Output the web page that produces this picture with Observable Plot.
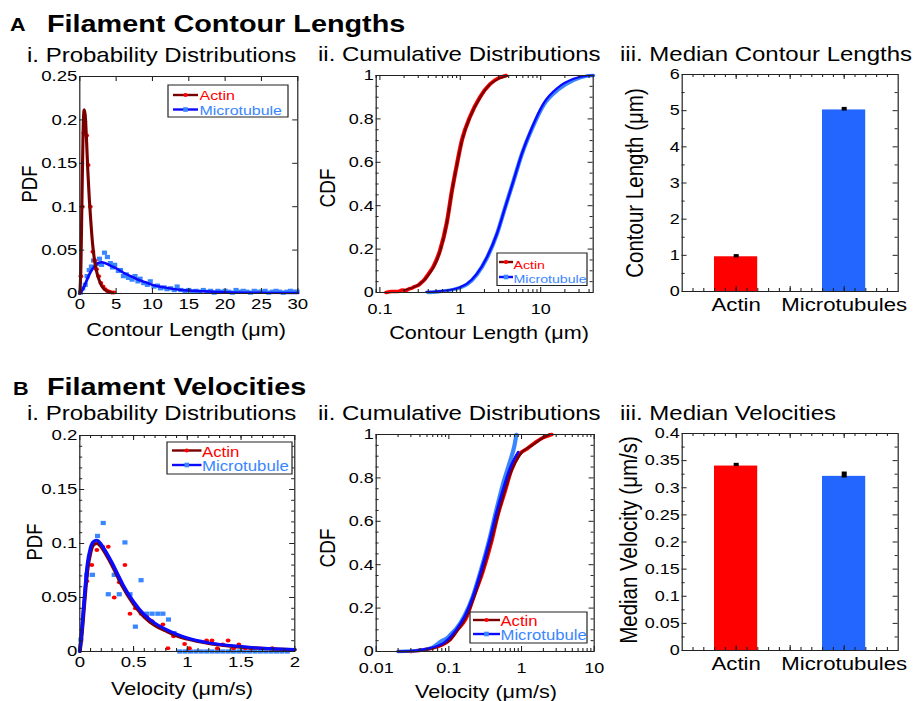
<!DOCTYPE html>
<html><head><meta charset="utf-8">
<script src="https://cdn.jsdelivr.net/npm/d3@7"></script>
<script src="https://cdn.jsdelivr.net/npm/@observablehq/plot@0.6"></script>
<style>
html,body{margin:0;padding:0;background:#fff;width:915px;height:701px;overflow:hidden;}
#stage{position:absolute;left:0;top:0;width:762.5px;height:701px;transform:scaleX(1.2);transform-origin:0 0;font-family:"Liberation Sans",Arial,sans-serif;}
#stage svg{position:absolute;}
</style></head><body><div id="stage"></div>
<script>
// ---------- DATA ----------
// A-i : contour length PDF
const lenPdfActinPts = [[0.15,0.02],[0.35,0.1],[0.55,0.185],[0.7,0.198],[0.95,0.182],[1.15,0.148],[1.45,0.1],[1.8,0.048],[2.05,0.038],[2.3,0.028],[2.6,0.02],[2.9,0.012],[3.2,0.008],[3.5,0.005],[3.8,0.003],[4.1,0.002],[4.4,0.001],[4.7,0.001]];
const lenPdfActinFit = [[0,0],[0.15,0.03],[0.3,0.11],[0.45,0.185],[0.6,0.212],[0.75,0.205],[0.9,0.182],[1.1,0.142],[1.3,0.11],[1.5,0.085],[1.75,0.058],[2.0,0.04],[2.3,0.026],[2.6,0.017],[3.0,0.009],[3.5,0.004],[4.0,0.002],[4.5,0.001]];
const lenPdfMtPts = [[0.1,0.001],[0.4,0.006],[0.75,0.01],[1.0,0.02],[1.3,0.027],[1.6,0.031],[1.9,0.038],[2.3,0.034],[2.7,0.040],[3.0,0.033],[3.4,0.047],[3.8,0.042],[4.2,0.035],[4.5,0.030],[4.8,0.033],[5.3,0.026],[5.6,0.027],[6.0,0.020],[6.4,0.022],[6.7,0.018],[7.2,0.016],[7.6,0.020],[8.0,0.014],[8.3,0.017],[8.8,0.012],[9.3,0.010],[9.7,0.014],[10.2,0.008],[10.7,0.009],[11.1,0.006],[11.6,0.007],[12.0,0.005],[12.5,0.006],[13.0,0.004],[13.4,0.008],[13.9,0.004],[14.5,0.003],[15,0.004],[15.5,0.002],[16,0.003],[16.5,0.002],[17,0.004],[17.5,0.002],[18,0.003],[18.5,0.001],[19,0.003],[19.5,0.002],[20,0.003],[20.5,0.002],[21,0.001],[21.5,0.004],[22,0.002],[22.5,0.003],[23,0.002],[23.5,0.001],[24,0.003],[24.5,0.002],[25,0.002],[25.5,0.003],[26,0.001],[26.5,0.002],[27,0.003],[27.5,0.002],[28,0.001],[28.5,0.002],[29,0.003],[29.5,0.002],[29.9,0.002]];
const lenPdfMtFit = [[0,0],[0.5,0.006],[1,0.016],[1.5,0.025],[2,0.031],[2.5,0.035],[3,0.036],[3.5,0.035],[4,0.033],[5,0.029],[6,0.024],[7,0.02],[8,0.016],[9,0.013],[10,0.01],[12,0.0065],[14,0.004],[17,0.0025],[20,0.0015],[25,0.0008],[30,0.0005]];
// A-ii : contour length CDF
const lenCdfActinData = [[0.12,0],[0.14,0.004],[0.17,0.005],[0.19,0.011],[0.21,0.009],[0.23,0.017],[0.25,0.02],[0.27,0.027],[0.3,0.033],[0.33,0.047],[0.36,0.06],[0.4,0.084],[0.47,0.124],[0.56,0.194],[0.68,0.322],[0.79,0.472],[0.91,0.592],[1.05,0.703],[1.33,0.812],[1.77,0.902],[2.36,0.961],[3.0,0.988],[3.7,1.0]];
const lenCdfActinFit = [[0.2,0.011],[0.25,0.021],[0.3,0.035],[0.35,0.055],[0.4,0.08],[0.47,0.12],[0.56,0.19],[0.68,0.32],[0.79,0.47],[0.91,0.59],[1.05,0.70],[1.33,0.81],[1.77,0.90],[2.36,0.96],[3.0,0.985],[3.8,0.998]];
const lenCdfMtData = [[0.4,0],[0.6,0.006],[0.8,0.013],[1.0,0.022],[1.2,0.036],[1.6,0.082],[2.15,0.16],[2.85,0.268],[3.6,0.39],[4.6,0.515],[5.8,0.635],[7.8,0.755],[10.8,0.862],[16.6,0.935],[25.7,0.978],[37.5,0.997],[45,1.0]];
const lenCdfMtFit = [[0.38,0.003],[0.5,0.005],[0.75,0.012],[1.0,0.025],[1.21,0.04],[1.61,0.086],[2.15,0.163],[2.85,0.27],[3.62,0.393],[4.6,0.516],[5.84,0.64],[7.79,0.76],[10.8,0.87],[16.6,0.946],[25.7,0.985],[37.5,0.999],[45,1.0]];
// A-iii / B-iii : medians
const barCats = ["Actin","Microtubules"];
const lenMedian = [0.96, 5.02];
const lenErrLo = [0.93, 4.99];
const lenErrHi = [1.02, 5.09];
const velMedian = [0.34, 0.321];
const velErrLo = [0.339, 0.318];
const velErrHi = [0.345, 0.329];
// B-i : velocity PDF
const velPdfActinPts = [[0.065,0.065],[0.112,0.08],[0.159,0.094],[0.212,0.097],[0.265,0.097],[0.32,0.05],[0.367,0.064],[0.42,0.08],[0.467,0.035],[0.517,0.04],[0.57,0.035],[0.623,0.032],[0.673,0.028],[0.773,0.025],[0.82,0.003],[0.872,0.014],[0.928,0.014],[0.975,0.007],[1.02,0.003],[1.18,0.0102],[1.23,0.0102],[1.28,0.003],[1.33,0.0065],[1.38,0.0102],[1.43,0.003],[1.48,0.0065],[1.54,0.003],[1.59,0.003],[1.79,0.003]];
const velPdfMtPts = [[0.01,0.011],[0.065,0.071],[0.118,0.071],[0.165,0.107],[0.218,0.119],[0.265,0.053],[0.32,0.071],[0.367,0.053],[0.42,0.101],[0.467,0.053],[0.517,0.023],[0.57,0.066],[0.623,0.035],[0.673,0.035],[0.726,0.035],[0.773,0.035],[0.825,0.0296],[0.876,0.017],[0.93,0],[0.98,0],[1.03,0],[1.08,0],[1.13,0],[1.18,0],[1.23,0],[1.28,0],[1.33,0],[1.38,0],[1.43,0],[1.48,0],[1.53,0],[1.58,0],[1.63,0],[1.68,0],[1.73,0],[1.78,0],[1.83,0],[1.88,0],[1.93,0]];
const velPdfActinFit = [[0,0],[0.02,0.018],[0.04,0.042],[0.07,0.075],[0.1,0.092],[0.13,0.099],[0.16,0.1],[0.2,0.097],[0.25,0.089],[0.3,0.08],[0.35,0.07],[0.4,0.06],[0.5,0.044],[0.6,0.032],[0.7,0.024],[0.8,0.019],[0.9,0.0145],[1.0,0.0115],[1.2,0.0075],[1.4,0.005],[1.6,0.0034],[1.8,0.0024],[2.0,0.0017]];
const velPdfMtFit = [[0,0],[0.02,0.021],[0.04,0.046],[0.07,0.08],[0.1,0.096],[0.13,0.102],[0.16,0.103],[0.2,0.099],[0.25,0.091],[0.3,0.082],[0.35,0.072],[0.4,0.062],[0.5,0.046],[0.6,0.034],[0.7,0.026],[0.8,0.0205],[0.9,0.016],[1.0,0.0125],[1.2,0.008],[1.4,0.0055],[1.6,0.0037],[1.8,0.0026],[2.0,0.0019]];
// B-ii : velocity CDF
const velCdfActinData = [[0.03,0],[0.045,0.008],[0.06,0.016],[0.08,0.03],[0.1,0.05],[0.13,0.1],[0.17,0.15],[0.22,0.255],[0.29,0.365],[0.38,0.5],[0.47,0.63],[0.58,0.73],[0.72,0.835],[0.94,0.91],[1.2,0.935],[1.43,0.955],[1.97,0.985],[2.6,1.0]];
const velCdfActinFit = [[0.02,0],[0.035,0.003],[0.05,0.01],[0.066,0.02],[0.085,0.034],[0.105,0.055],[0.13,0.095],[0.17,0.155],[0.222,0.25],[0.29,0.37],[0.378,0.505],[0.47,0.625],[0.58,0.735],[0.72,0.83],[0.94,0.905],[1.43,0.952],[1.97,0.985],[2.42,1.0]];
const velCdfMtData = [[0.02,0],[0.04,0.006],[0.06,0.02],[0.07,0.035],[0.08,0.05],[0.09,0.058],[0.1,0.07],[0.11,0.085],[0.126,0.105],[0.164,0.165],[0.214,0.255],[0.279,0.38],[0.363,0.52],[0.449,0.65],[0.554,0.77],[0.684,0.87],[0.8,0.95],[0.85,1.0]];
const velCdfMtFit = [[0.02,0],[0.035,0.004],[0.049,0.012],[0.065,0.022],[0.083,0.037],[0.1,0.06],[0.126,0.1],[0.164,0.16],[0.214,0.253],[0.279,0.375],[0.363,0.513],[0.449,0.637],[0.554,0.745],[0.684,0.84],[0.8,0.89],[0.9,0.92]];
// tick labels
const lenPdfXTicks = [0,5,10,15,20,25,30];
const lenPdfYTicks = [0,0.05,0.1,0.15,0.2,0.25];
const lenCdfXTicks = [0.1,1,10];
const cdfYTicks = [0,0.2,0.4,0.6,0.8,1];
const lenBarYTicks = [0,1,2,3,4,5,6];
const velPdfXTicks = [0,0.5,1,1.5,2];
const velPdfYTicks = [0,0.05,0.1,0.15,0.2];
const velCdfXTicks = [0.01,0.1,1,10];
const velBarYTicks = [0,0.05,0.1,0.15,0.2,0.25,0.3,0.35,0.4];

// ---------- STYLE ----------
const S = 1.2;           // horizontal stretch of the whole figure
const RED = "#ff0000", DARKRED = "#7a0000", LBLUE = "#3a86ff", BLUE = "#0a0aff", BARBLUE = "#2266ff";
const FONT = "Liberation Sans, Arial, sans-serif";
const stage = document.getElementById("stage");
const fmt = d => String(+(+d).toFixed(3));
function lin(a,b,s){const t=[];for(let v=a;v<=b+s/1000;v+=s)t.push(+v.toFixed(4));return t;}
function logMinor(lo,hi){const t=[];for(let e=-3;e<=2;e++)for(let m=2;m<10;m++){const v=+(m*10**e).toPrecision(3);if(v>=lo&&v<=hi)t.push(v);}return t;}
const P = a => a.map(([x,y]) => ({x,y}));

function panel(o){
  const mL=52,mR=18,mT=8,mB=32;
  const w=o.W/S, H=o.H;
  const tk=[];
  const addX=(v,len)=>{tk.push(Plot.tickX(v,{x:d=>d,insetTop:H-len,stroke:"#222",strokeWidth:0.9}));tk.push(Plot.tickX(v,{x:d=>d,insetBottom:H-len,stroke:"#222",strokeWidth:0.9}));};
  const addY=(v,len)=>{tk.push(Plot.tickY(v,{y:d=>d,insetRight:w-len/S,stroke:"#222"}));tk.push(Plot.tickY(v,{y:d=>d,insetLeft:w-len/S,stroke:"#222"}));};
  addX(o.xMaj,5); if(o.xMin) addX(o.xMin,3);
  addY(o.yMaj,5); if(o.yMin) addY(o.yMin,3);
  const svg = Plot.plot({
    width:w+mL+mR, height:H+mT+mB,
    marginLeft:mL, marginRight:mR, marginTop:mT, marginBottom:mB,
    x:o.x, y:o.y,
    style:{fontFamily:FONT, fontSize:o.fs+"px", color:"#000", background:"transparent", overflow:"visible"},
    marks:[
      ...o.marks,
      ...tk,
      Plot.frame({stroke:"#222"}),
      Plot.axisX(o.xLab,{tickSize:0,tickPadding:o.xPad??5,tickFormat:o.xFmt||fmt,label:null,fontSize:o.xfs||o.fs}),
      Plot.axisY(o.yLab,{tickSize:0,tickPadding:2,tickFormat:fmt,label:null,fontSize:o.fs})
    ]
  });
  svg.style.left=(o.L/S-mL)+"px"; svg.style.top=(o.T-mT)+"px";
  stage.append(svg);
}

// A-i
panel({L:79,T:76,W:218,H:217,fs:15.5,
  x:{domain:[0,30]}, y:{domain:[0,0.25]},
  xMaj:lenPdfXTicks, yMaj:lenPdfYTicks, xLab:lenPdfXTicks, yLab:lenPdfYTicks,
  marks:[
    Plot.dot(P(lenPdfMtPts),{x:"x",y:"y",symbol:"square",r:2.4,fill:LBLUE}),
    Plot.line(P(lenPdfMtFit),{x:"x",y:"y",stroke:BLUE,strokeWidth:2.4,curve:"monotone-x"}),
    Plot.dot(P(lenPdfActinPts),{x:"x",y:"y",r:2,fill:RED}),
    Plot.line(P(lenPdfActinFit),{x:"x",y:"y",stroke:DARKRED,strokeWidth:2.6,curve:"monotone-x"})
  ]});
// A-ii
panel({L:376,T:75,W:217,H:217,fs:15,xPad:11,
  x:{type:"log",domain:[0.09,45]}, y:{domain:[0,1]},
  xMaj:lenCdfXTicks, xMin:logMinor(0.09,45), yMaj:cdfYTicks, yMin:lin(0.1,0.9,0.2).concat(lin(0.05,0.95,0.1)),
  xLab:lenCdfXTicks, yLab:cdfYTicks,
  marks:[
    Plot.line(P(lenCdfActinData),{x:"x",y:"y",stroke:RED,strokeWidth:3.5,curve:"monotone-x"}),
    Plot.line(P(lenCdfActinFit),{x:"x",y:"y",stroke:DARKRED,strokeWidth:2,curve:"monotone-x"}),
    Plot.line(P(lenCdfMtData),{x:"x",y:"y",stroke:LBLUE,strokeWidth:3.5,curve:"monotone-x"}),
    Plot.line(P(lenCdfMtFit),{x:"x",y:"y",stroke:BLUE,strokeWidth:2,curve:"monotone-x"})
  ]});
// bars helper
function barPanel(L,T,W,H,med,lo,hi,yDom,yTicks,yMin,fs){
  const rows = barCats.map((c,i)=>({pos:i+1,v:med[i],lo:lo[i],hi:hi[i]}));
  const cols = [RED,BARBLUE];
  panel({L,T,W,H,fs,xfs:18.5,xPad:6,
    x:{domain:[0.5,2.5]}, y:{domain:yDom},
    xMaj:[1,1.5,2], xMin:lin(0.6,2.4,0.1), yMaj:yTicks, yMin,
    xLab:[1,2], xFmt:d=>barCats[d-1], yLab:yTicks,
    marks:[
      Plot.rect(rows,{x1:d=>d.pos-0.2,x2:d=>d.pos+0.2,y1:0,y2:"v",fill:(d,i)=>cols[i]}),
      Plot.ruleX(rows,{x:"pos",y1:"lo",y2:"hi",stroke:"#000",strokeWidth:4.2})
    ]});
}
barPanel(682,74,216,217,lenMedian,lenErrLo,lenErrHi,[0,6],lenBarYTicks,lin(0.5,5.5,1),15);
// B-i
panel({L:79,T:435,W:215,H:216,fs:15.5,
  x:{domain:[0,2]}, y:{domain:[0,0.2]},
  xMaj:velPdfXTicks, xMin:lin(0.1,1.9,0.1), yMaj:velPdfYTicks, yMin:lin(0.01,0.19,0.01),
  xLab:velPdfXTicks, yLab:velPdfYTicks,
  marks:[
    Plot.dot(P(velPdfMtPts),{x:"x",y:"y",symbol:"square",r:2.4,fill:LBLUE}),
    Plot.dot(P(velPdfActinPts),{x:"x",y:"y",r:2,fill:RED}),
    Plot.line(P(velPdfActinFit),{x:"x",y:"y",stroke:DARKRED,strokeWidth:3.2,curve:"monotone-x"}),
    Plot.line(P(velPdfMtFit),{x:"x",y:"y",stroke:BLUE,strokeWidth:3,curve:"monotone-x"})
  ]});
// B-ii
panel({L:375,T:434,W:218,H:217,fs:15,xPad:11,
  x:{type:"log",domain:[0.01,10]}, y:{domain:[0,1]},
  xMaj:velCdfXTicks, xMin:logMinor(0.01,10), yMaj:cdfYTicks, yMin:lin(0.1,0.9,0.2).concat(lin(0.05,0.95,0.1)),
  xLab:velCdfXTicks, yLab:cdfYTicks,
  marks:[
    Plot.line(P(velCdfActinData),{x:"x",y:"y",stroke:RED,strokeWidth:3.5,curve:"monotone-x"}),
    Plot.line(P(velCdfMtData),{x:"x",y:"y",stroke:LBLUE,strokeWidth:3.5,curve:"monotone-x"}),
    Plot.line(P(velCdfActinFit),{x:"x",y:"y",stroke:DARKRED,strokeWidth:2.2,curve:"monotone-x"}),
    Plot.line(P(velCdfMtFit),{x:"x",y:"y",stroke:BLUE,strokeWidth:2.2,curve:"monotone-x"})
  ]});
barPanel(682,433,216,217,velMedian,velErrLo,velErrHi,[0,0.4],velBarYTicks,lin(0.025,0.375,0.05),15);

// ---------- TEXT OVERLAY ----------
const ov = d3.select(stage).append("svg").attr("width",915/S).attr("height",701).style("left","0px").style("top","0px").style("overflow","visible");
function txt(x,y,s,{fs=20,bold=false,anchor="start",rot=0,fill="#000"}={}){
  const t=ov.append("text").attr("transform",`translate(${x/S},${y})${rot?` rotate(${rot})`:""}`)
    .attr("font-size",fs).attr("text-anchor",anchor).attr("fill",fill).attr("font-family",FONT).text(s);
  if(bold) t.attr("font-weight","bold");
}
txt(10,31,"A",{fs:18,bold:true});
txt(47,31.5,"Filament Contour Lengths",{fs:24,bold:true});
txt(27,61.5,"i. Probability Distributions");
txt(318,61,"ii. Cumulative Distributions");
txt(620,61,"iii. Median Contour Lengths");
txt(13,395,"B",{fs:18,bold:true});
txt(47,395,"Filament Velocities",{fs:24,bold:true});
txt(27,420,"i. Probability Distributions");
txt(318,420,"ii. Cumulative Distributions");
txt(620,420,"iii. Median Velocities");
txt(186,336,"Contour Length (\u03bcm)",{fs:18,anchor:"middle"});
txt(489,338.5,"Contour Length (\u03bcm)",{fs:18,anchor:"middle"});
txt(182,695,"Velocity (\u03bcm/s)",{fs:18,anchor:"middle"});
txt(486,698,"Velocity (\u03bcm/s)",{fs:18,anchor:"middle"});
txt(37,184,"PDF",{fs:18.5,anchor:"middle",rot:-90});
txt(335,188,"CDF",{fs:19,anchor:"middle",rot:-90});
txt(643,183,"Contour Length (\u03bcm)",{fs:20.5,anchor:"middle",rot:-90});
txt(42,542,"PDF",{fs:18.5,anchor:"middle",rot:-90});
txt(335,548,"CDF",{fs:19,anchor:"middle",rot:-90});
txt(637,540,"Median Velocity (\u03bcm/s)",{fs:20.5,anchor:"middle",rot:-90});

function legend(b,lx0,lx1,tx,rows,fs){
  ov.append("rect").attr("x",b[0]/S).attr("y",b[1]).attr("width",(b[2]-b[0])/S).attr("height",b[3]-b[1])
    .attr("fill","#fff").attr("stroke","#222").attr("stroke-width",1);
  rows.forEach(r=>{
    ov.append("line").attr("x1",lx0/S).attr("x2",lx1/S).attr("y1",r.ly).attr("y2",r.ly).attr("stroke",r.line).attr("stroke-width",2.4);
    const cx=(lx0+lx1)/2/S;
    if(r.sq) ov.append("rect").attr("x",cx-1.9).attr("y",r.ly-2.3).attr("width",3.8).attr("height",4.6).attr("fill",r.mark);
    else ov.append("ellipse").attr("cx",cx).attr("cy",r.ly).attr("rx",1.8).attr("ry",2.1).attr("fill",r.mark);
    txt(tx,r.tb,r.label,{fs,fill:r.tc});
  });
}
legend([168,85,288,117],173,198,199.5,[
  {ly:95,tb:100,label:"Actin",line:DARKRED,mark:RED,tc:RED},
  {ly:109.5,tb:114.5,label:"Microtubule",line:BLUE,mark:LBLUE,tc:LBLUE,sq:true}],13.3);
legend([497,253,587,285.5],499,513,513.5,[
  {ly:262,tb:268.5,label:"Actin",line:DARKRED,mark:RED,tc:RED},
  {ly:277,tb:282.5,label:"Microtubule",line:BLUE,mark:LBLUE,tc:LBLUE,sq:true}],11.8);
legend([167,442,292,474],172,201.5,202,[
  {ly:450.5,tb:456.5,label:"Actin",line:DARKRED,mark:RED,tc:RED},
  {ly:465,tb:470.5,label:"Microtubule",line:BLUE,mark:LBLUE,tc:LBLUE,sq:true}],14);
legend([470,612,587,643],473,500,500.5,[
  {ly:620,tb:626,label:"Actin",line:DARKRED,mark:RED,tc:RED},
  {ly:634,tb:640,label:"Microtubule",line:BLUE,mark:LBLUE,tc:LBLUE,sq:true}],13.9);
</script></body></html>
